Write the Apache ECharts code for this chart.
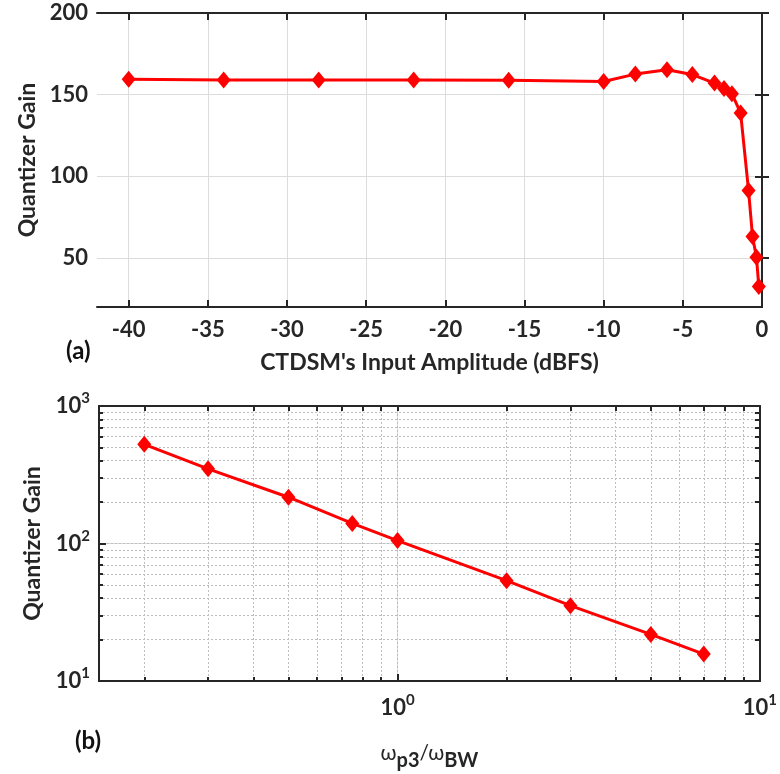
<!DOCTYPE html>
<html>
<head>
<meta charset="utf-8">
<script src="https://cdn.jsdelivr.net/npm/echarts@6/dist/echarts.min.js"></script>
<style>
  html, body { margin: 0; padding: 0; background: #fff; }
  #chart { width: 780px; height: 774px; }
</style>
</head>
<body>
<div id="chart"></div>
<script>
  // (a) gain vs input amplitude
  const ampDbfs = [-40, -34, -28, -22, -16, -10, -8, -6, -4.4, -3, -2.4, -1.9, -1.35, -0.85, -0.6, -0.35, -0.2]
  const gainA = [159.5, 159, 159, 159, 158.8, 158.1, 162.6, 165.3, 162.3, 157.1, 153.7, 150.6, 138.7, 91.4, 63.2, 50.5, 32.5]
  const ampTicks = [-40, -35, -30, -25, -20, -15, -10, -5, 0]
  const gainTicks = [50, 100, 150, 200]

  // (b) gain vs pole ratio (log-log)
  const ratio = [0.2, 0.3, 0.5, 0.75, 1, 2, 3, 5, 7]
  const gainB = [526, 349, 217, 140, 105, 53.7, 35.3, 21.8, 15.7]
  const ratioMajor = [1, 10]
  const ratioMinor = [0.2, 0.3, 0.4, 0.5, 0.6, 0.7, 0.8, 0.9, 1, 2, 3, 4, 5, 6, 7, 8, 9, 10]
  const gainMajor = [10, 100, 1000]
  const gainMinor = [20, 30, 40, 50, 60, 70, 80, 90, 100, 200, 300, 400, 500, 600, 700, 800, 900, 1000]

  const FONT = 'Lato'
  const INK = '#262626'
  const RED = '#ff0000'

  const chart = echarts.init(document.getElementById('chart'), null, { renderer: 'canvas' })

  const lineAxis = { show: true, lineStyle: { color: INK, width: 2 } }
  const tickIn = (vals, len) => ({ show: true, inside: true, length: len, customValues: vals, lineStyle: { color: INK, width: 2 } })
  const sup = {
    b: { fontFamily: FONT, fontSize: 22, fontWeight: 'bold', color: INK },
    s: { fontFamily: FONT, fontSize: 15, fontWeight: 'bold', color: INK, padding: [0, 0, 15, 0] }
  }
  const powLabel = v => '{b|10}{s|' + Math.round(Math.log10(v)) + '}'
  const plainLabel = { fontFamily: FONT, fontSize: 22, fontWeight: 'bold', color: INK }
  const nameStyle = { fontFamily: FONT, fontSize: 23, fontWeight: 'bold', color: INK }
  const hidden = { show: false }

  const lineSeries = (name, x, y, xi, yi) => ({
    name: name,
    type: 'line',
    xAxisIndex: xi,
    yAxisIndex: yi,
    data: x.map((v, i) => [v, y[i]]),
    symbol: 'diamond',
    symbolSize: [14, 17],
    lineStyle: { color: RED, width: 3 },
    itemStyle: { color: RED },
    z: 10
  })

  chart.setOption({
    backgroundColor: '#fff',
    animation: false,
    grid: [
      { left: 97, top: 13, right: 18, height: 294 },
      { left: 99, top: 406, right: 18, height: 275 }
    ],
    xAxis: [
      {
        gridIndex: 0, type: 'value', position: 'bottom', min: -42, max: 0,
        axisLine: lineAxis, axisTick: tickIn(ampTicks, 7),
        axisLabel: { customValues: ampTicks, margin: 12, ...plainLabel },
        splitLine: { show: true, lineStyle: { color: '#dcdcdc', width: 1 } },
        name: "CTDSM's Input Amplitude (dBFS)", nameLocation: 'middle', nameGap: 44, nameTextStyle: nameStyle
      },
      {
        gridIndex: 0, type: 'value', position: 'top', min: -42, max: 0,
        axisLine: lineAxis, axisTick: tickIn(ampTicks, 7), axisLabel: hidden, splitLine: hidden
      },
      {
        gridIndex: 1, type: 'log', logBase: 10, position: 'bottom', min: 0.15, max: 10,
        axisLine: lineAxis, axisTick: tickIn(ratioMajor, 7),
        axisLabel: { customValues: ratioMajor, margin: 12, formatter: powLabel, rich: sup },
        splitLine: { show: true, lineStyle: { color: '#d9d9d9', width: 1 } },
        name: '{w|ω}{sub|p3}{w|/ω}{sub|BW}', nameLocation: 'middle', nameGap: 60,
        nameTextStyle: {
          rich: {
            w: { fontFamily: FONT, fontSize: 21, color: INK, padding: [0, 0, 6, 0] },
            sub: { fontFamily: FONT, fontSize: 20, fontWeight: 'bold', color: INK, padding: [10, 0, 0, 0] }
          }
        }
      },
      {
        gridIndex: 1, type: 'log', logBase: 10, position: 'bottom', min: 0.15, max: 10,
        axisLine: lineAxis, axisTick: tickIn(ratioMinor, 4), axisLabel: hidden,
        splitLine: { show: true, lineStyle: { color: '#bdbdbd', width: 1, type: [2, 2] } }
      },
      {
        gridIndex: 1, type: 'log', logBase: 10, position: 'top', min: 0.15, max: 10,
        axisLine: lineAxis, axisTick: tickIn(ratioMinor, 5), axisLabel: hidden, splitLine: hidden
      }
    ],
    yAxis: [
      {
        gridIndex: 0, type: 'value', position: 'left', min: 20, max: 200,
        axisLine: lineAxis, axisTick: tickIn(gainTicks, 7),
        axisLabel: { customValues: gainTicks, margin: 9, ...plainLabel },
        splitLine: { show: true, lineStyle: { color: '#dcdcdc', width: 1 } },
        name: 'Quantizer Gain', nameLocation: 'middle', nameGap: 57, nameTextStyle: nameStyle
      },
      {
        gridIndex: 0, type: 'value', position: 'right', min: 20, max: 200,
        axisLine: lineAxis, axisTick: tickIn(gainTicks, 7), axisLabel: hidden, splitLine: hidden
      },
      {
        gridIndex: 1, type: 'log', logBase: 10, position: 'left', min: 10, max: 1000,
        axisLine: lineAxis, axisTick: tickIn(gainMajor, 7),
        axisLabel: { customValues: gainMajor, margin: 9, formatter: powLabel, rich: sup },
        splitLine: { show: true, lineStyle: { color: '#d9d9d9', width: 1 } },
        name: 'Quantizer Gain', nameLocation: 'middle', nameGap: 55, nameTextStyle: nameStyle
      },
      {
        gridIndex: 1, type: 'log', logBase: 10, position: 'left', min: 10, max: 1000,
        axisLine: lineAxis, axisTick: tickIn(gainMinor, 4), axisLabel: hidden,
        splitLine: { show: true, lineStyle: { color: '#bdbdbd', width: 1, type: [2, 2] } }
      },
      {
        gridIndex: 1, type: 'log', logBase: 10, position: 'right', min: 10, max: 1000,
        axisLine: lineAxis, axisTick: tickIn(gainMinor, 5), axisLabel: hidden, splitLine: hidden
      }
    ],
    graphic: [
      { type: 'text', left: 66, top: 339, style: { text: '(a)', fontFamily: FONT, fontSize: 24, fontWeight: 'bold', fill: '#111' } },
      { type: 'text', left: 75, top: 729, style: { text: '(b)', fontFamily: FONT, fontSize: 24, fontWeight: 'bold', fill: '#111' } }
    ],
    series: [
      lineSeries('a', ampDbfs, gainA, 0, 0),
      lineSeries('b', ratio, gainB, 2, 2)
    ]
  })
</script>
</body>
</html>
